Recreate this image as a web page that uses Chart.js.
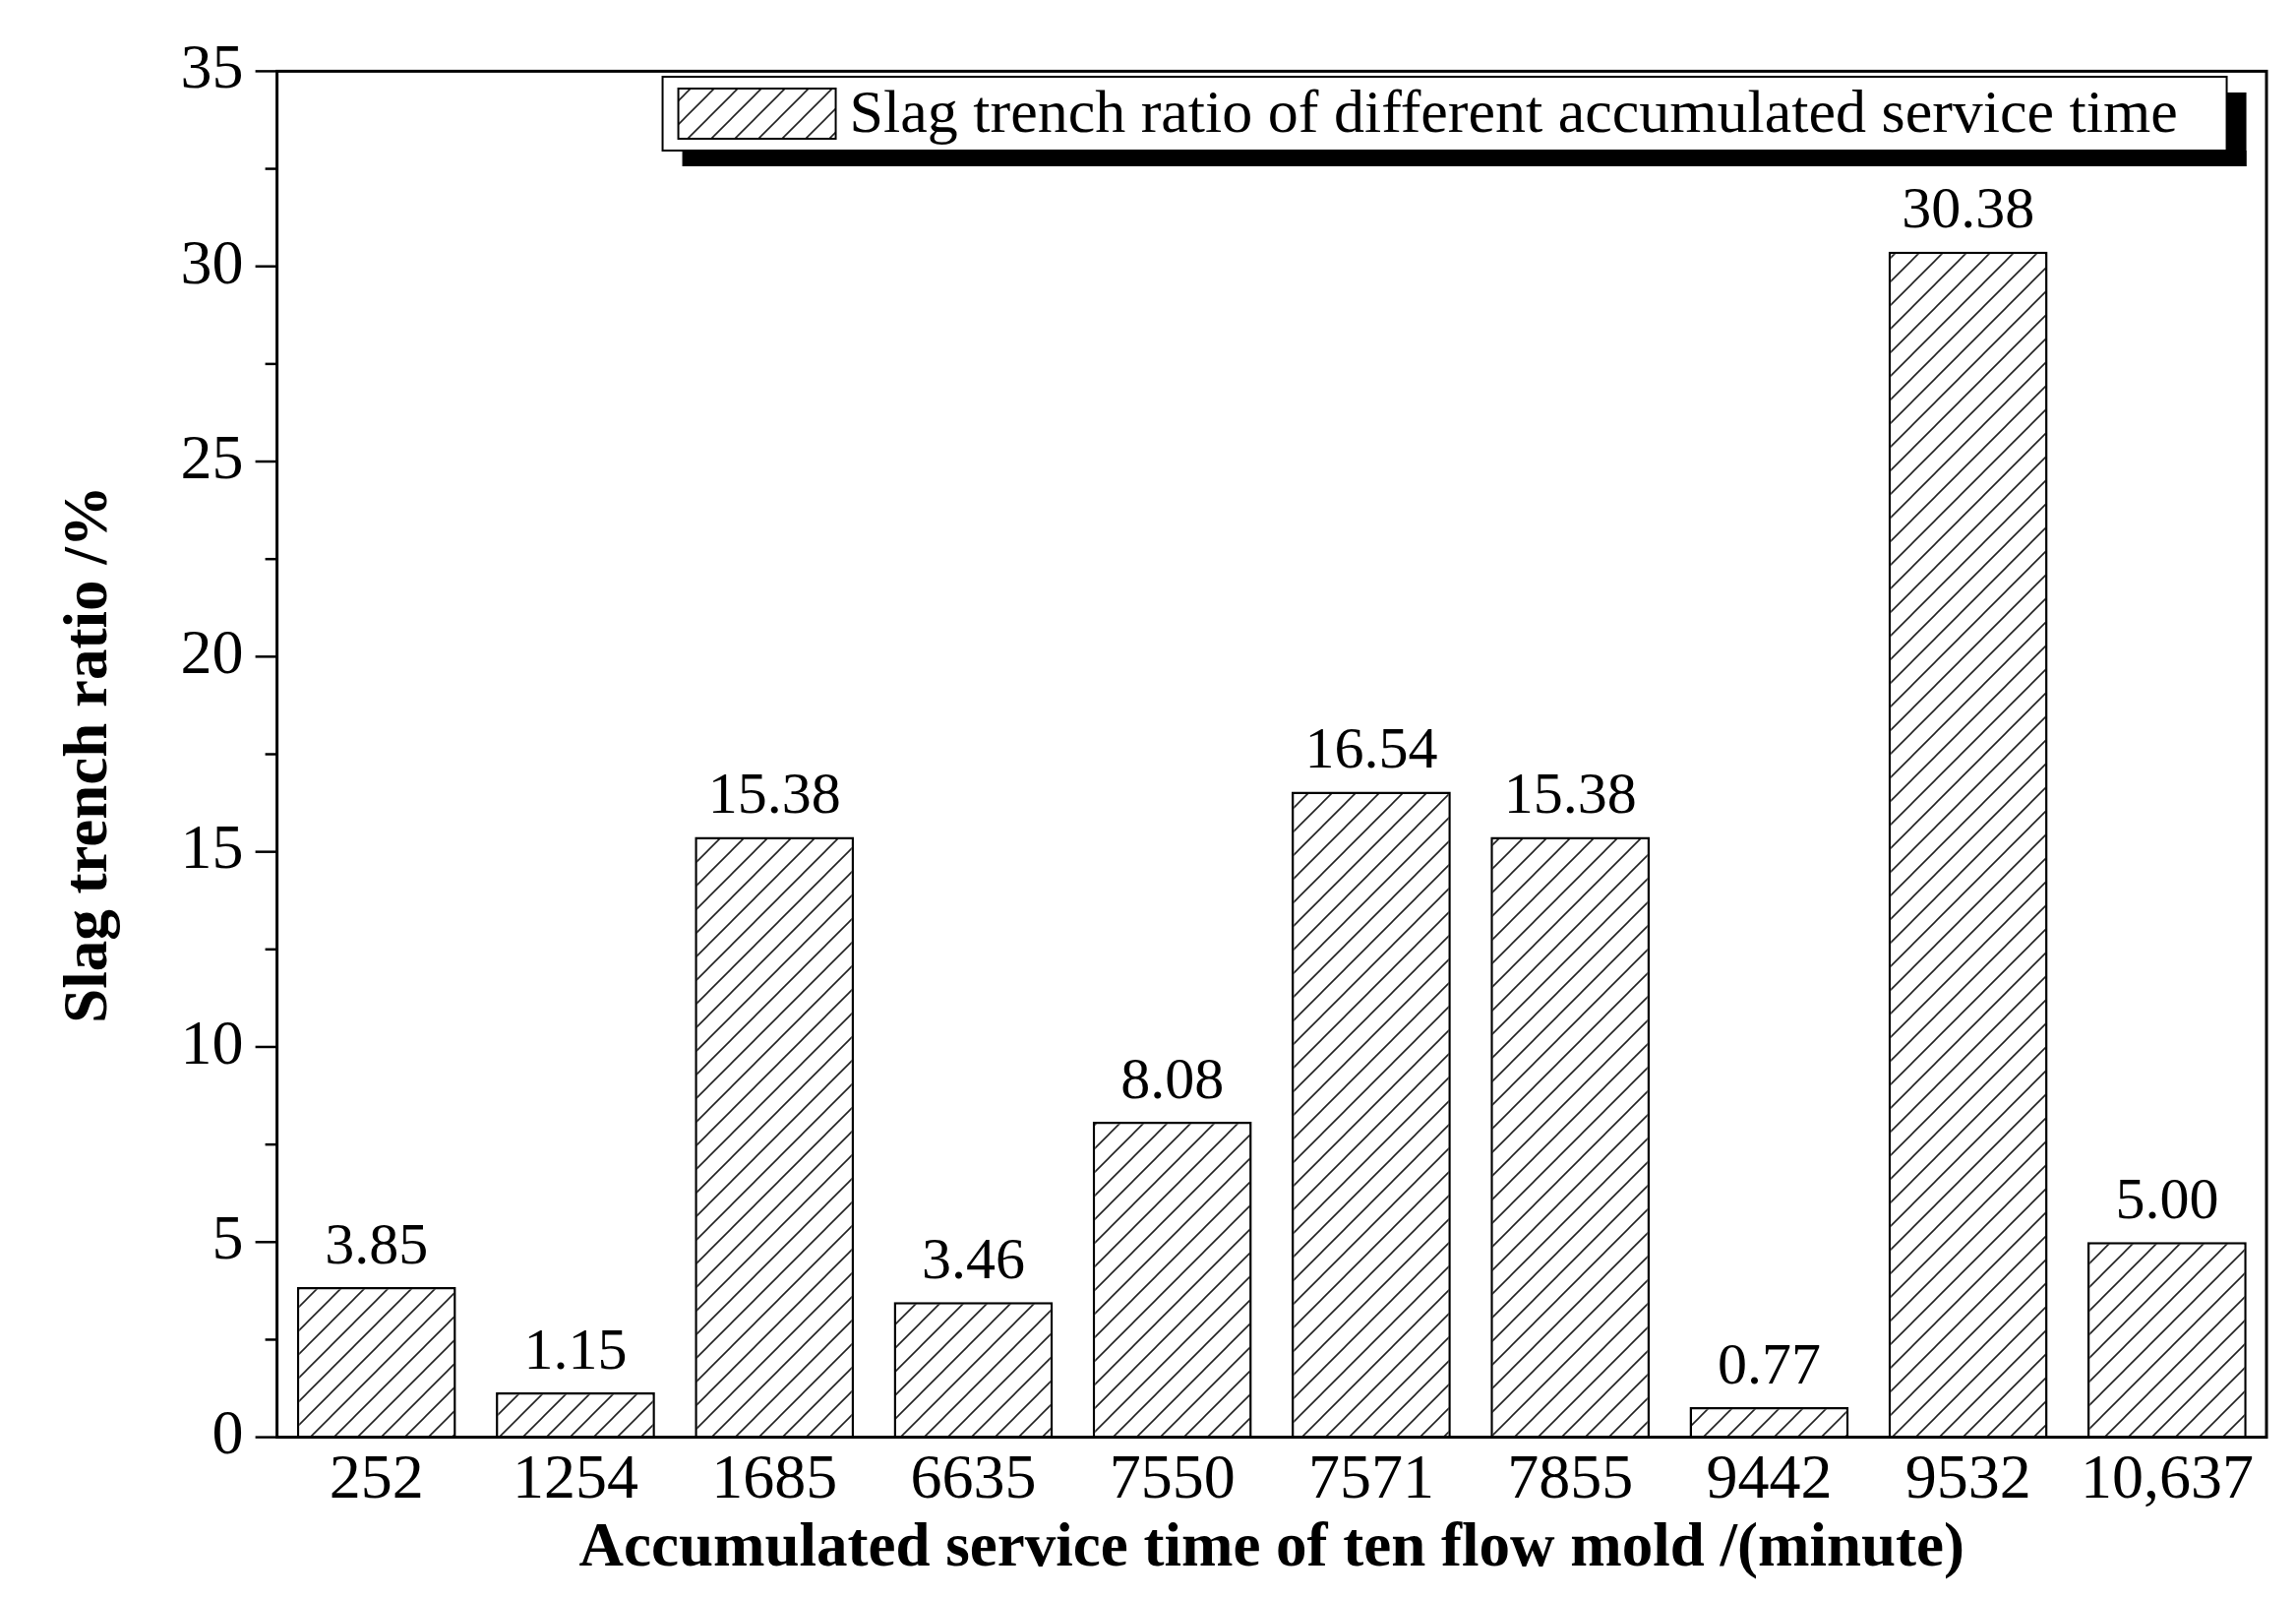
<!DOCTYPE html>
<html><head><meta charset="utf-8">
<script src="https://cdn.jsdelivr.net/npm/chart.js@4/dist/chart.umd.min.js"></script>
<style>html,body{margin:0;padding:0;background:#fff}#wrap{width:2334px;height:1625px}</style>
</head><body><div id="wrap"><canvas id="c"></canvas></div>
<script>
const categories = ["252","1254","1685","6635","7550","7571","7855","9442","9532","10,637"];
const values = [3.85,1.15,15.38,3.46,8.08,16.54,15.38,0.77,30.38,5.00];
const seriesName = "Slag trench ratio of different accumulated service time";
const yTicks = [0,5,10,15,20,25,30,35];

function hatch(){
  const p=document.createElement('canvas');p.width=24;p.height=24;
  const g=p.getContext('2d');g.fillStyle='#fff';g.fillRect(0,0,24,24);
  g.strokeStyle='#222';g.lineWidth=1.6;
  g.beginPath();g.moveTo(-6,30);g.lineTo(30,-6);g.moveTo(-18,18);g.lineTo(18,-18);g.moveTo(6,42);g.lineTo(42,6);g.stroke();
  return g.createPattern(p,'repeat');
}
const serif='"Liberation Serif","DejaVu Serif",serif';
const deco={id:'deco',afterDraw(ch){
  const {ctx,chartArea:a,scales:{x,y}}=ch;
  ctx.save();ctx.strokeStyle='#000';ctx.lineWidth=3;
  ctx.strokeRect(a.left,a.top,a.right-a.left,a.bottom-a.top);
  ctx.lineWidth=2.5;
  for(let v=0;v<=35;v+=2.5){const py=y.getPixelForValue(v);const L=(v%5===0)?22:12;
    ctx.beginPath();ctx.moveTo(a.left-L,py);ctx.lineTo(a.left,py);ctx.stroke();}
  ctx.fillStyle='#000';ctx.font='60px '+serif;ctx.textAlign='center';ctx.textBaseline='bottom';
  const m=ch.getDatasetMeta(0);
  m.data.forEach((b,i)=>ctx.fillText(values[i].toFixed(2),b.x,b.y-10));
  // legend
  const lx=a.left+(457-195)*1.496,ly=78,lw=1590,lh=75;
  ctx.fillStyle='#000';ctx.fillRect(lx+20,ly+lh,lw,16);ctx.fillRect(lx+lw,ly+16,20,lh);
  ctx.fillStyle='#fff';ctx.fillRect(lx,ly,lw,lh);ctx.lineWidth=2;ctx.strokeRect(lx,ly,lw,lh);
  ctx.fillStyle=hatch();ctx.fillRect(lx+16,ly+12,160,lh-24);ctx.strokeRect(lx+16,ly+12,160,lh-24);
  ctx.fillStyle='#000';ctx.textAlign='left';ctx.textBaseline='middle';ctx.font='62px '+serif;
  ctx.fillText(seriesName,lx+190,ly+lh/2+2);
  ctx.restore();
}};
new Chart(document.getElementById('c'),{
  type:'bar',
  data:{labels:categories,datasets:[{label:seriesName,data:values,backgroundColor:hatch(),borderColor:'#000',borderWidth:2.5,barPercentage:0.8,categoryPercentage:1}]},
  options:{responsive:true,maintainAspectRatio:false,animation:false,
    layout:{padding:{left:50,right:30,top:72,bottom:12}},
    plugins:{legend:{display:false},tooltip:{enabled:false}},
    scales:{
      x:{grid:{display:false,drawTicks:false},border:{display:false},
        ticks:{color:'#000',font:{family:serif,size:64},padding:6,maxRotation:0,autoSkip:false},
        title:{display:true,text:'Accumulated service time of ten flow mold /(minute)',color:'#000',font:{family:serif,size:63,weight:'bold'},padding:{top:-12,bottom:0}}},
      y:{min:0,max:35,afterBuildTicks(ax){ax.ticks=yTicks.map(v=>({value:v}));},
        grid:{display:false,drawTicks:false},border:{display:false},
        ticks:{color:'#000',font:{family:serif,size:64},padding:34},
        title:{display:true,text:'Slag trench ratio /%',color:'#000',font:{family:serif,size:63,weight:'bold'},padding:{bottom:20}}}
    }},
  plugins:[deco]
});
</script></body></html>
